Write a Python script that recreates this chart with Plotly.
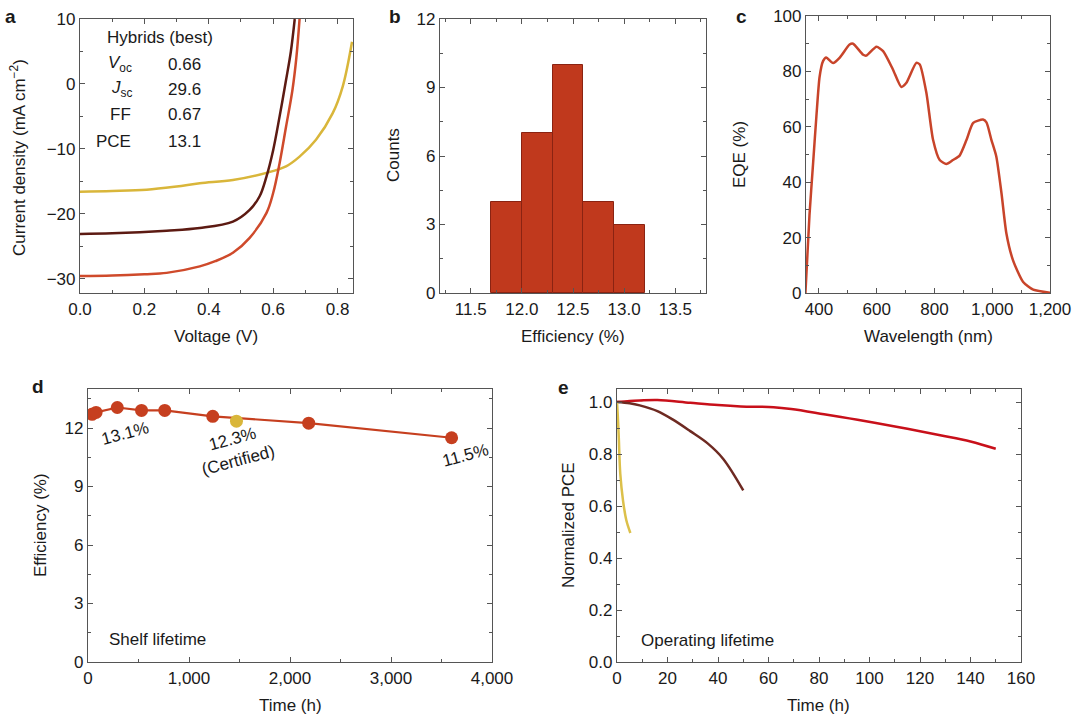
import plotly.graph_objects as go

W, H = 1081, 723
FONT = "Liberation Sans, Arial, sans-serif"
FS = 17   # tick / text size
FT = 17   # axis title size

# ---------------- data ----------------
# a: J-V curves
jv_best_v = [0.0, 0.1, 0.2, 0.269, 0.372, 0.42, 0.475, 0.527, 0.579, 0.6, 0.62, 0.64, 0.66, 0.672, 0.682]
jv_best_j = [-29.6, -29.5, -29.3, -29.1, -28.1, -27.3, -26.0, -23.7, -19.9, -16.8, -12.2, -6.6, -0.9, 4.0, 10.0]
jv_mid_v = [0.0, 0.1, 0.269, 0.372, 0.475, 0.527, 0.558, 0.579, 0.6, 0.62, 0.64, 0.655, 0.667]
jv_mid_j = [-23.1, -23.0, -22.6, -22.2, -21.2, -19.4, -17.3, -14.3, -10.2, -5.0, 0.6, 5.0, 10.0]
jv_low_v = [0.0, 0.1, 0.207, 0.3, 0.372, 0.475, 0.579, 0.64, 0.682, 0.733, 0.785, 0.816, 0.845]
jv_low_j = [-16.6, -16.5, -16.3, -15.8, -15.3, -14.8, -13.7, -12.7, -11.2, -8.6, -4.5, -0.4, 6.5]

# b: histogram
hist_centers = [11.85, 12.15, 12.45, 12.75, 13.05]
hist_counts = [4, 7, 10, 4, 3]

# c: EQE
eqe_wl = [353, 367, 379, 391, 402, 414, 425, 449, 472, 506, 518, 553, 564, 599, 622, 656, 685, 702,
          737, 749, 772, 795, 818, 841, 864, 887, 911, 934, 968, 980, 997, 1014, 1032, 1049, 1072,
          1107, 1142, 1200]
eqe_val = [0, 28, 46, 63.8, 78, 83.7, 85, 83, 85, 89.7, 90, 86, 85.7, 88.9, 87.3, 80.7, 74.4, 75.8,
           83.1, 82.5, 72.2, 55.3, 48, 46.6, 48, 49.6, 55.3, 61.4, 62.6, 61.6, 55.3, 49.3, 36, 21.5, 11.8,
           4, 1.2, 0.1]

# d: shelf lifetime
shelf_t = [40, 80, 290, 530, 760, 1235, 2185, 3600]
shelf_eff = [12.7, 12.8, 13.05, 12.9, 12.9, 12.6, 12.25, 11.5]
cert_t = [1470]
cert_eff = [12.35]

# e: operating lifetime
op_red_t = [0, 5, 9, 16, 29, 40, 49, 62, 69, 82, 92, 102, 115, 128, 140, 150]
op_red_v = [1.0, 1.004, 1.006, 1.008, 0.997, 0.988, 0.983, 0.98, 0.973, 0.953, 0.937, 0.92, 0.897, 0.872, 0.848, 0.82]
op_brown_t = [0, 5, 9, 16, 22, 29, 36, 42, 50]
op_brown_v = [1.0, 0.995, 0.987, 0.965, 0.933, 0.888, 0.84, 0.782, 0.66]
op_yel_t = [0, 0.3, 0.7, 1.3, 2.4, 3.7, 5.3]
op_yel_v = [1.0, 0.95, 0.865, 0.724, 0.62, 0.545, 0.496]

# ---------------- colors ----------------
C_RED = "#cf4a2b"
C_BROWN = "#5c1a12"
C_YEL = "#d9b63a"
C_BAR = "#c0391d"
C_BAREDGE = "#8a2312"
C_EQE = "#c8442a"
C_D = "#c63f1f"
C_E_RED = "#c8101a"
C_E_BROWN = "#6e2a22"
C_E_YEL = "#dcc04a"
AXC = "#555555"
TXT = "#1a1a1a"


def pxx(x):
    return x / W


def pxy(y):
    return 1 - y / H


fig = go.Figure()

# a
fig.add_trace(go.Scatter(x=jv_low_v, y=jv_low_j, mode="lines", line=dict(color=C_YEL, width=2.5, shape="spline"),
                         xaxis="x", yaxis="y", showlegend=False))
fig.add_trace(go.Scatter(x=jv_mid_v, y=jv_mid_j, mode="lines", line=dict(color=C_BROWN, width=2.5, shape="spline"),
                         xaxis="x", yaxis="y", showlegend=False))
fig.add_trace(go.Scatter(x=jv_best_v, y=jv_best_j, mode="lines", line=dict(color=C_RED, width=2.5, shape="spline"),
                         xaxis="x", yaxis="y", showlegend=False))
# b
fig.add_trace(go.Bar(x=hist_centers, y=hist_counts, width=0.3, marker=dict(color=C_BAR, line=dict(color=C_BAREDGE, width=1)),
                     xaxis="x2", yaxis="y2", showlegend=False))
# c
fig.add_trace(go.Scatter(x=eqe_wl, y=eqe_val, mode="lines", line=dict(color=C_EQE, width=2.5, shape="spline", smoothing=0.6),
                         xaxis="x3", yaxis="y3", showlegend=False))
# d
fig.add_trace(go.Scatter(x=shelf_t, y=shelf_eff, mode="lines+markers", line=dict(color=C_D, width=2.2),
                         marker=dict(color=C_D, size=13), xaxis="x4", yaxis="y4", showlegend=False))
fig.add_trace(go.Scatter(x=cert_t, y=cert_eff, mode="markers", marker=dict(color=C_YEL, size=13),
                         xaxis="x4", yaxis="y4", showlegend=False))
# e
fig.add_trace(go.Scatter(x=op_red_t, y=op_red_v, mode="lines", line=dict(color=C_E_RED, width=2.5, shape="spline"),
                         xaxis="x5", yaxis="y5", showlegend=False))
fig.add_trace(go.Scatter(x=op_brown_t, y=op_brown_v, mode="lines", line=dict(color=C_E_BROWN, width=2.5, shape="spline"),
                         xaxis="x5", yaxis="y5", showlegend=False))
fig.add_trace(go.Scatter(x=op_yel_t, y=op_yel_v, mode="lines", line=dict(color=C_E_YEL, width=2.5, shape="spline"),
                         xaxis="x5", yaxis="y5", showlegend=False))


def ax(domain, rng, dtick, minor_dtick, fmt=None, tick0=None, anchor=None):
    d = dict(domain=domain, range=rng, dtick=dtick, showgrid=False, zeroline=False,
             showline=True, linecolor=AXC, linewidth=1.2, mirror="allticks",
             ticks="inside", ticklen=5, tickcolor=AXC, tickwidth=1,
             tickfont=dict(size=FS, color=TXT, family=FONT),
             minor=dict(dtick=minor_dtick, ticks="inside", ticklen=3, tickcolor=AXC, showgrid=False),
             anchor=anchor, fixedrange=True, automargin=False)
    if fmt:
        d["tickformat"] = fmt
    if tick0 is not None:
        d["tick0"] = tick0
    return d


layout = dict(template="none", width=W, height=H, autosize=False,
              margin=dict(l=0, r=0, t=0, b=0, pad=0, autoexpand=False),
              paper_bgcolor="white", plot_bgcolor="white", font=dict(family=FONT, color=TXT, size=FS),
              bargap=0)

yA = [pxy(293), pxy(19)]
yC = [pxy(293), pxy(16)]
yB = [pxy(662), pxy(389)]

layout["xaxis"] = ax([pxx(80), pxx(353)], [0, 0.848], 0.2, 0.1, ".1f", 0, "y")
layout["yaxis"] = ax(yA, [-32.2, 10], 10, 5, None, 0, "x")
layout["xaxis2"] = ax([pxx(440), pxx(706)], [11.2, 13.8], 0.5, 0.25, ".1f", 11.5, "y2")
layout["yaxis2"] = ax(yA, [0, 12], 3, 1.5, None, 0, "x2")
layout["xaxis3"] = ax([pxx(806), pxx(1050)], [355, 1200], 200, 100, ",d", 0, "y3")
layout["yaxis3"] = ax(yC, [0, 100], 20, 10, None, 0, "x3")
layout["xaxis4"] = ax([pxx(88), pxx(492)], [0, 4000], 1000, 500, ",d", 0, "y4")
layout["yaxis4"] = ax(yB, [0, 14], 3, 1.5, None, 0, "x4")
layout["xaxis5"] = ax([pxx(617), pxx(1021)], [0, 160], 20, 10, None, 0, "y5")
layout["yaxis5"] = ax(yB, [0, 1.05], 0.2, 0.1, ".1f", 0, "x5")

anns = []


def txt(x, y, s, size=FS, angle=0, xanchor="center", bold=False, yanchor="middle"):
    if bold:
        s = "<b>" + s + "</b>"
    anns.append(dict(x=pxx(x), y=pxy(y), xref="paper", yref="paper", text=s, showarrow=False,
                     font=dict(size=size, color=TXT, family=FONT), textangle=angle,
                     xanchor=xanchor, yanchor=yanchor))


# panel letters
txt(10, 16, "a", 19, bold=True)
txt(395, 16, "b", 19, bold=True)
txt(741, 16, "c", 19, bold=True)
txt(38, 386, "d", 19, bold=True)
txt(563, 387, "e", 19, bold=True)

# axis titles
txt(18, 158, "Current density (mA cm<sup>−2</sup>)", FT, -90)
txt(216, 336, "Voltage (V)", FT)
txt(393, 155, "Counts", FT, -90)
txt(573, 336, "Efficiency (%)", FT)
txt(739, 155, "EQE (%)", FT, -90)
txt(928, 336, "Wavelength (nm)", FT)
txt(40, 525, "Efficiency (%)", FT, -90)
txt(290, 705, "Time (h)", FT)
txt(568, 525, "Normalized PCE", FT, -90)
txt(818, 705, "Time (h)", FT)

# panel a inset table
txt(160, 37, "Hybrids (best)")
txt(134, 64, "<i>V</i><sub>oc</sub>", xanchor="right")
txt(134, 89, "<i>J</i><sub>sc</sub>", xanchor="right")
txt(133, 115, "FF", xanchor="right")
txt(133, 142, "PCE", xanchor="right")
txt(166, 64, "0.66", xanchor="left")
txt(166, 89, "29.6", xanchor="left")
txt(166, 115, "0.67", xanchor="left")
txt(166, 142, "13.1", xanchor="left")

# panel d labels
anns.append(dict(x=366, y=11.74, xref="x4", yref="y4", text="13.1%", showarrow=False, textangle=-15,
                 font=dict(size=FS, color=TXT, family=FONT)))
anns.append(dict(x=1465, y=10.9, xref="x4", yref="y4", text="12.3%<br>(Certified)", showarrow=False, textangle=-15,
                 font=dict(size=FS, color=TXT, family=FONT)))
anns.append(dict(x=3733, y=10.6, xref="x4", yref="y4", text="11.5%", showarrow=False, textangle=-15,
                 font=dict(size=FS, color=TXT, family=FONT)))
txt(107, 639, "Shelf lifetime", xanchor="left")
txt(639, 640, "Operating lifetime", xanchor="left")

layout["annotations"] = anns
fig.update_layout(**layout)
fig.write_html("out.html", config={"displayModeBar": False},
               post_script="document.body.style.margin='0';document.body.style.padding='0';"
                           "document.body.style.overflow='hidden';")
